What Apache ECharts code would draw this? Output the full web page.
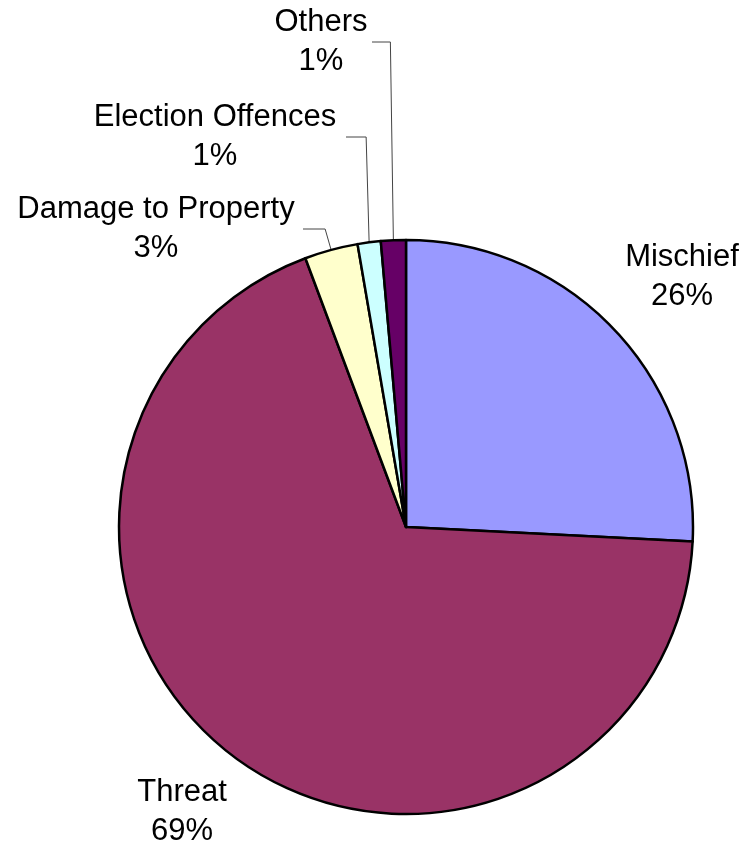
<!DOCTYPE html>
<html>
<head>
<meta charset="utf-8">
<script src="https://cdn.jsdelivr.net/npm/echarts@6/dist/echarts.min.js"></script>
<style>
html,body{margin:0;padding:0;background:#fff;}
#chart{width:747px;height:850px;}
</style>
</head>
<body>
<div id="chart"></div>
<script>
// Data
const categories = ['Mischief', 'Threat', 'Damage to Property', 'Election Offences', 'Others'];
const shares = [25.8, 68.5, 3.0, 1.3, 1.4];
const sliceColors = ['#9999FF', '#993366', '#FFFFCC', '#CCFFFF', '#660066'];

// Label placement (layout only)
const labelAnchors = [[682, 277], [182, 812], [156, 229], [215, 137], [321, 42]];
const showLeader = [false, false, true, true, true];
const bendShift = [0, 0, 6, 3, 3];
const leaderGap = [0, 0, 147, 131, 51];

const chart = echarts.init(document.getElementById('chart'));
chart.setOption({
  backgroundColor: '#ffffff',
  animation: false,
  series: [{
    type: 'pie',
    center: [406, 527],
    radius: 287,
    startAngle: 90,
    clockwise: true,
    percentPrecision: 0,
    avoidLabelOverlap: false,
    itemStyle: { borderColor: '#000000', borderWidth: 2.5 },
    label: {
      show: true,
      position: 'outside',
      formatter: '{b}\n{d}%',
      fontFamily: 'Liberation Sans, Arial, sans-serif',
      fontSize: 31,
      lineHeight: 39,
      color: '#000000',
      align: 'center'
    },
    labelLine: { show: true, lineStyle: { color: '#444444', width: 1 } },
    labelLayout: function (p) {
      const i = p.dataIndex;
      const a = labelAnchors[i];
      const out = { x: a[0], y: a[1], align: 'center', verticalAlign: 'middle' };
      if (showLeader[i] && p.labelLinePoints && p.labelLinePoints.length) {
        const p0 = p.labelLinePoints[0];
        const rightEdge = a[0] + leaderGap[i];
        out.labelLinePoints = [[p0[0], p0[1]], [p0[0] - bendShift[i], a[1]], [rightEdge, a[1]]];
      }
      return out;
    },
    data: categories.map((name, i) => ({
      name: name,
      value: shares[i],
      itemStyle: { color: sliceColors[i] },
      labelLine: { show: showLeader[i] }
    }))
  }]
});
</script>
</body>
</html>
